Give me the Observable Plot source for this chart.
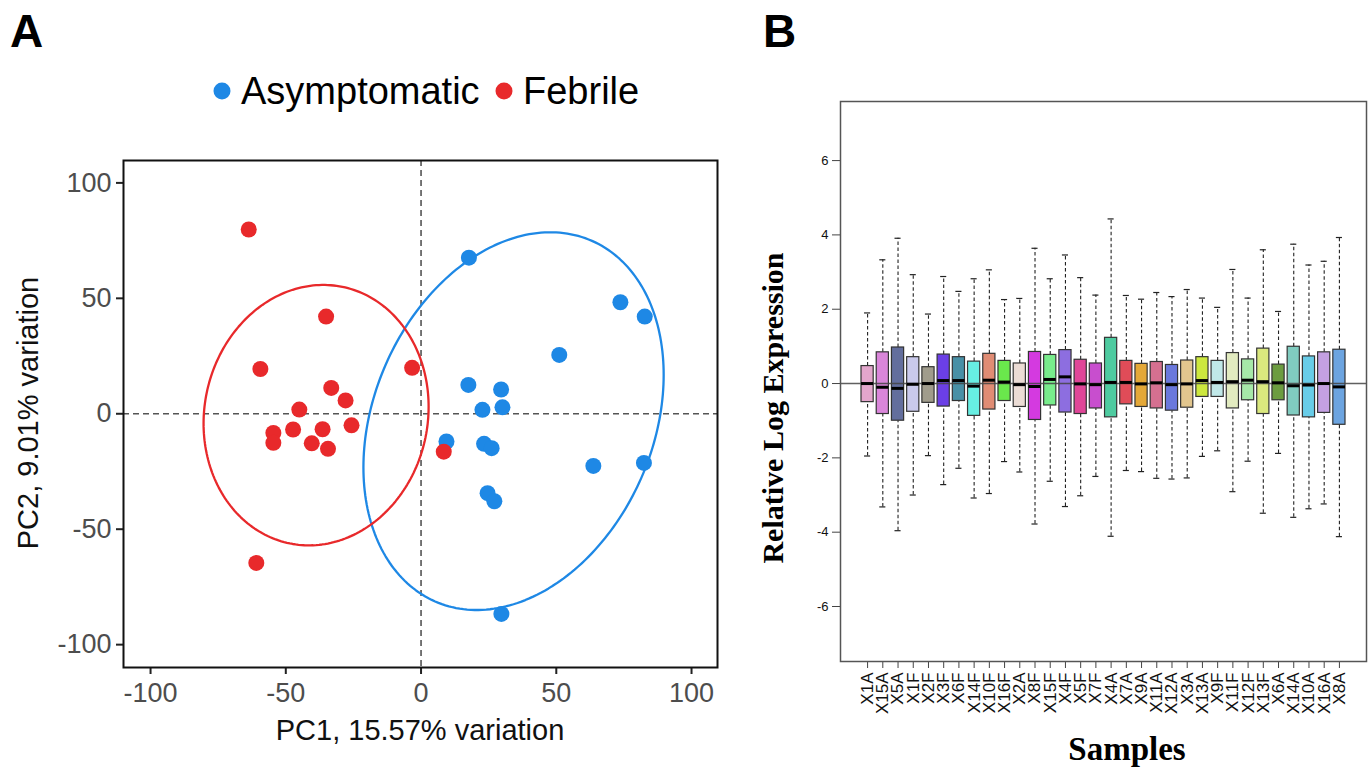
<!DOCTYPE html>
<html><head><meta charset="utf-8">
<script src="https://cdn.jsdelivr.net/npm/d3@7"></script>
<script src="https://cdn.jsdelivr.net/npm/@observablehq/plot@0.6"></script>
<style>
body{margin:0;background:#fff;}
#wrap{position:relative;width:1371px;height:773px;overflow:hidden;background:#fff;}
#wrap > svg{position:absolute;}
</style></head><body><div id="wrap"></div>
<script>
// ---------- Panel A: PCA ----------
const groups = ["Asymptomatic", "Febrile"];
const groupColors = ["#1E88E5", "#E8292B"];
const asymX = [17.7, 73.7, 82.7, 51.1, 17.5, 29.6, 30.1, 22.7, 9.4, 23.3, 26.1, 63.7, 82.4, 24.6, 27.1, 29.7];
const asymY = [67.6, 48.3, 42.1, 25.5, 12.5, 10.5, 2.8, 1.7, -12.0, -13.0, -14.9, -22.6, -21.3, -34.4, -37.9, -86.7];
const febX = [-63.7, -35.1, -59.4, -3.3, -33.2, -27.9, -45.0, -25.7, -54.6, -54.6, -47.3, -36.4, -40.4, -34.4, 8.4, -60.9];
const febY = [79.8, 42.1, 19.4, 19.9, 11.2, 5.8, 1.8, -5.0, -8.3, -12.6, -6.8, -6.7, -12.8, -15.2, -16.4, -64.6];
const pcaTicks = [-100, -50, 0, 50, 100];
// confidence ellipses (centre, x/y half-extent, correlation) per group
const ellCX = [34.2, -38.8];
const ellCY = [-3.2, -0.6];
const ellSX = [55.5, 41.6];
const ellSY = [81.8, 56.4];
const ellRho = [0.245, 0.064];

// ---------- Panel B: RLE boxplot ----------
const samples = ["X1A","X15A","X5A","X1F","X2F","X3F","X6F","X14F","X10F","X16F","X2A","X8F","X15F","X4F","X5F","X7F","X4A","X7A","X9A","X11A","X12A","X3A","X13A","X9F","X11F","X12F","X13F","X6A","X14A","X10A","X16A","X8A"];
const boxColors = ["#E3A6CC","#DA86DA","#636E9D","#CACAEC","#A09C8C","#6B3FE6","#4890A6","#67EEE2","#E08C74","#6AE84C","#EBDCD5","#D43AE0","#78EC8C","#8D6EE0","#E04698","#C84ECE","#4ECBA0","#E04C58","#E4A838","#D57090","#6A78DC","#E2C68E","#CDE83E","#C0E8E8","#E2EBC0","#A6E8A8","#DAE87E","#6C9C40","#80CCC0","#68CCE8","#C4A0E2","#6CA4E0"];
const whiskHi = [1.90,3.33,3.91,2.93,1.87,2.88,2.48,2.82,3.06,2.26,2.29,3.64,2.82,3.46,2.85,2.38,4.43,2.37,2.27,2.45,2.34,2.53,2.30,2.05,3.07,2.30,3.60,1.94,3.75,3.19,3.29,3.93];
const q3 = [0.47,0.84,0.97,0.71,0.44,0.78,0.71,0.59,0.80,0.61,0.54,0.85,0.77,0.90,0.64,0.54,1.23,0.61,0.53,0.58,0.50,0.62,0.71,0.61,0.82,0.65,0.94,0.51,0.99,0.73,0.84,0.91];
const med = [0.00,-0.10,-0.13,-0.02,0.00,0.08,0.08,-0.07,0.09,0.04,-0.03,-0.08,0.11,0.18,-0.01,-0.03,0.03,0.03,-0.01,0.02,-0.03,-0.01,0.08,0.03,0.05,0.09,0.05,0.02,-0.06,-0.04,0.00,-0.09];
const q1 = [-0.50,-0.82,-1.00,-0.76,-0.52,-0.62,-0.47,-0.87,-0.70,-0.47,-0.63,-0.98,-0.59,-0.78,-0.82,-0.67,-0.91,-0.56,-0.63,-0.67,-0.73,-0.65,-0.36,-0.36,-0.67,-0.45,-0.82,-0.45,-0.86,-0.91,-0.79,-1.11];
const whiskLo = [-1.95,-3.32,-3.96,-3.00,-1.94,-2.72,-2.28,-3.08,-2.96,-2.10,-2.38,-3.78,-2.63,-3.31,-3.02,-2.50,-4.11,-2.34,-2.37,-2.55,-2.57,-2.54,-1.96,-1.81,-2.91,-2.09,-3.49,-1.88,-3.60,-3.37,-3.24,-4.12];
const rleTicks = [-6, -4, -2, 0, 2, 4, 6];

const SANS = "'Liberation Sans', Arial, sans-serif";
const SERIF = "'Liberation Serif', 'Times New Roman', serif";
const hyphenFmt = d => String(d); // keep ASCII hyphen-minus like the original
const wrap = document.getElementById("wrap");

// ----- build panel A -----
const ptsA = [
  ...asymX.map((x, i) => ({x, y: asymY[i], g: groups[0]})),
  ...febX.map((x, i) => ({x, y: febY[i], g: groups[1]}))
];
const ellPts = [];
groups.forEach((g, k) => {
  const n = 240;
  for (let j = 0; j <= n; j++) {
    const t = 2 * Math.PI * j / n;
    ellPts.push({
      g,
      x: ellCX[k] + ellSX[k] * Math.cos(t),
      y: ellCY[k] + ellSY[k] * (ellRho[k] * Math.cos(t) + Math.sqrt(1 - ellRho[k] ** 2) * Math.sin(t))
    });
  }
});

const plotA = Plot.plot({
  width: 740, height: 773,
  marginLeft: 123, marginRight: 23, marginTop: 160, marginBottom: 106,
  x: {domain: [-110.0, 109.6]},
  y: {domain: [-109.9, 109.7]},
  color: {domain: groups, range: groupColors},
  style: {fontFamily: SANS, background: "transparent"},
  marks: [
    Plot.ruleX([0], {stroke: "#555", strokeDasharray: "6,4", strokeWidth: 1.6}),
    Plot.ruleY([0], {stroke: "#555", strokeDasharray: "6,4", strokeWidth: 1.6}),
    Plot.line(ellPts, {x: "x", y: "y", z: "g", stroke: "g", strokeWidth: 2.3}),
    Plot.dot(ptsA, {x: "x", y: "y", fill: "g", r: 8}),
    Plot.axisX({ticks: pcaTicks, tickFormat: hyphenFmt, tickSize: 7, tickPadding: 8, fontSize: 27, fill: "#4d4d4d", stroke: "#222", strokeWidth: 2, label: null}),
    Plot.axisY({ticks: pcaTicks, tickFormat: hyphenFmt, tickSize: 7, tickPadding: 5, fontSize: 27, fill: "#4d4d4d", stroke: "#222", strokeWidth: 2, label: null}),
    Plot.frame({stroke: "#111", strokeWidth: 2})
  ]
});
plotA.style.left = "0px"; plotA.style.top = "0px";
wrap.appendChild(plotA);

// ----- build panel B -----
const boxes = samples.map((s, i) => ({
  i: i + 1, s, col: boxColors[i], hi: whiskHi[i], q3: q3[i], med: med[i], q1: q1[i], lo: whiskLo[i]
}));
const plotB = Plot.plot({
  width: 631, height: 773,
  marginLeft: 100, marginRight: 5, marginTop: 101, marginBottom: 112,
  x: {type: "linear", domain: [-0.78, 33.78]},
  y: {domain: [-7.48, 7.59]},
  color: {type: "identity"},
  style: {fontFamily: SANS, background: "transparent"},
  marks: [
    Plot.ruleX(boxes, {x: "i", y1: "q3", y2: "hi", stroke: "#222", strokeDasharray: "3.5,2.5", strokeWidth: 1.1}),
    Plot.ruleX(boxes, {x: "i", y1: "lo", y2: "q1", stroke: "#222", strokeDasharray: "3.5,2.5", strokeWidth: 1.1}),
    Plot.ruleY(boxes, {y: "hi", x1: d => d.i - 0.2, x2: d => d.i + 0.2, stroke: "#222", strokeWidth: 1.2}),
    Plot.ruleY(boxes, {y: "lo", x1: d => d.i - 0.2, x2: d => d.i + 0.2, stroke: "#222", strokeWidth: 1.2}),
    Plot.rect(boxes, {x1: d => d.i - 0.4, x2: d => d.i + 0.4, y1: "q1", y2: "q3", fill: "col", stroke: "#333", strokeWidth: 1.2}),
    Plot.ruleY([0], {stroke: "#444", strokeWidth: 1.4, strokeOpacity: 0.85}),
    Plot.ruleY(boxes, {y: "med", x1: d => d.i - 0.4, x2: d => d.i + 0.4, stroke: "#000", strokeWidth: 3}),
    Plot.axisY({ticks: rleTicks, tickFormat: hyphenFmt, tickSize: 8, tickPadding: 4, fontSize: 13, fill: "#111", stroke: "#444", label: null}),
    Plot.axisX({ticks: d3.range(1, 33), tickFormat: i => samples[i - 1], tickRotate: -90, tickSize: 7, tickPadding: 4, fontSize: 17, fill: "#111", stroke: "#444", label: null}),
    Plot.frame({stroke: "#555", strokeWidth: 1.5})
  ]
});
plotB.style.left = "740px"; plotB.style.top = "0px";
wrap.appendChild(plotB);

// ----- overlay texts: panel letters, legend, axis titles -----
const ov = d3.select(wrap).append("svg")
  .attr("width", 1371).attr("height", 773)
  .style("left", "0px").style("top", "0px").style("pointer-events", "none");

ov.append("text").attr("x", 10).attr("y", 47).attr("font-family", SANS).attr("font-weight", "bold").attr("font-size", 46).text("A");
ov.append("text").attr("x", 763).attr("y", 47).attr("font-family", SANS).attr("font-weight", "bold").attr("font-size", 46).text("B");

// legend
const legX = [222, 504];
groups.forEach((g, k) => {
  ov.append("circle").attr("cx", legX[k]).attr("cy", 91).attr("r", 8.5).attr("fill", groupColors[k]);
  ov.append("text").attr("x", legX[k] + 19).attr("y", 104).attr("font-family", SANS).attr("font-size", 38).attr("fill", "#000").text(g);
});

// panel A axis titles
ov.append("text").attr("x", 420).attr("y", 740).attr("text-anchor", "middle").attr("font-family", SANS).attr("font-size", 29).attr("fill", "#111").text("PC1, 15.57% variation");
ov.append("text").attr("transform", "translate(38,413) rotate(-90)").attr("text-anchor", "middle").attr("font-family", SANS).attr("font-size", 29).attr("fill", "#111").text("PC2, 9.01% variation");

// panel B axis titles
ov.append("text").attr("transform", "translate(783,408) rotate(-90)").attr("text-anchor", "middle").attr("font-family", SERIF).attr("font-weight", "bold").attr("font-size", 30).attr("fill", "#000").text("Relative Log Expression");
ov.append("text").attr("x", 1127).attr("y", 760).attr("text-anchor", "middle").attr("font-family", SERIF).attr("font-weight", "bold").attr("font-size", 33).attr("fill", "#000").text("Samples");
</script></body></html>
